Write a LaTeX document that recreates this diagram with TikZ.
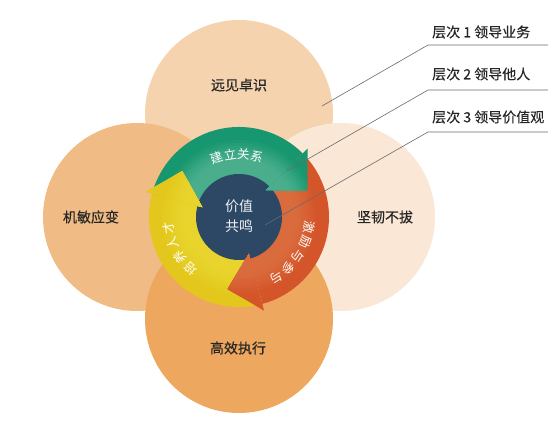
\documentclass[tikz,border=0pt]{standalone}
\usepackage{fontspec}
\setmainfont{Noto Sans CJK SC}
\newfontfamily\medcjk[BoldFont={Noto Sans CJK SC},BoldFeatures={FakeBold=0.35}]{Noto Sans CJK SC}
\definecolor{ctop}{HTML}{F5D3AE}
\definecolor{cleft}{HTML}{F0BB84}
\definecolor{cright}{HTML}{FBE7D5}
\definecolor{cbot}{HTML}{EEA75E}
\definecolor{gdark}{HTML}{17976F}
\definecolor{glight}{HTML}{4AAE8C}
\definecolor{odark}{HTML}{D4552A}
\definecolor{olight}{HTML}{DA6B3D}
\definecolor{ydark}{HTML}{E3C71C}
\definecolor{ylight}{HTML}{E8D42C}
\definecolor{navy}{HTML}{2C4865}
\definecolor{txt}{HTML}{262626}
\definecolor{leader}{HTML}{6A6A6A}
\newcommand\bandpath[2]{([shift={(239,203)}]#1:90) arc[start angle=#1,end angle=#2,radius=90] -- ([shift={(239,203)}]#2:43) arc[start angle=#2,end angle=#1,radius=43] -- cycle}
\newcommand\headpath[1]{([shift={(239,203)}]#1:97) -- ([shift={(239,203)}]#1-24:73) -- ([shift={(239,203)}]#1:38) -- cycle}
\newcommand\gradfill[3]{%
  \begin{scope}
    \clip #1;
    \foreach \r/\p in {100/100,80/100,77/88,74/72,71/56,68/40,65/25,62/12,59/4,56/0}
      {\fill[#2!\p!#3] (239,203) circle[radius=\r];}
  \end{scope}}
\tikzset{
  bigc/.style={circle,inner sep=0pt,minimum size=188pt},
  lbl/.style={text=txt,inner sep=0pt,font=\medcjk\bfseries\fontsize{14pt}{16pt}\selectfont},
  reflbl/.style={text=txt,inner sep=0pt,anchor=west,font=\medcjk\bfseries\fontsize{14pt}{16pt}\selectfont},
  arrtxt/.style={text=white,inner sep=0pt,font=\fontsize{12.5pt}{14pt}\selectfont},
  coretxt/.style={text=white!92!navy,inner sep=0pt,font=\fontsize{14pt}{16pt}\selectfont},
  leaderline/.style={draw=leader,line width=0.6pt}
}
\begin{document}
\begin{tikzpicture}[x=1pt,y=1pt]
\useasboundingbox (0,0) rectangle (548,420);
% four large circles
\node[bigc,fill=ctop] (ctopn) at (239,306) {};
\node[bigc,fill=cleft] (cleftn) at (137,203) {};
\node[bigc,fill=cright] (crightn) at (341,203) {};
\node[bigc,fill=cbot] (cbotn) at (239,101) {};
% arrow bands
\gradfill{\bandpath{165}{45}}{gdark}{glight}
\gradfill{\bandpath{45}{-75}}{odark}{olight}
\gradfill{\bandpath{-75}{-195}}{ydark}{ylight}
% core
\node[circle,fill=navy,inner sep=0pt,minimum size=86pt] (core) at (239,203) {};
% arrow heads
\gradfill{\headpath{45}}{gdark}{glight}
\gradfill{\headpath{-75}}{odark}{olight}
\gradfill{\headpath{165}}{ydark}{ylight}
% arrow texts
\foreach \a/\c [count=\i] in {110.5/建,98.2/立,85.9/关,73.6/系}
  \node[arrtxt,rotate=\a-90] (gt\i) at ([shift={(239,203)}]\a:63) {\c};
\foreach \a/\c [count=\i] in {-8.5/激,-20.9/励,-33.3/与,-45.7/参,-58.1/与}
  \node[arrtxt,rotate=\a-90] (ot\i) at ([shift={(239,203)}]\a:71) {\c};
\foreach \a/\c [count=\i] in {227.2/培,214.4/养,201.6/人,188.8/才}
  \node[arrtxt,rotate=\a-90] (yt\i) at ([shift={(239,203)}]\a:71) {\c};
% core text
\node[coretxt] (core1) at (239,214) {价值};
\node[coretxt] (core2) at (239,194) {共鸣};
% circle labels
\node[lbl] (l1) at (239,335) {远见卓识};
\node[lbl] (l2) at (91,203) {机敏应变};
\node[lbl] (l3) at (385,203) {坚韧不拔};
\node[lbl] (l4) at (238,72) {高效执行};
% level labels
\node[reflbl] (r1) at (432,388) {层次 1 领导业务};
\node[reflbl] (r2) at (432,346) {层次 2 领导他人};
\node[reflbl] (r3) at (432,303) {层次 3 领导价值观};
% leader lines
\coordinate (p1) at (322,314);
\coordinate (p2) at (287,249);
\coordinate (p3) at (265,195);
\coordinate (k1) at (428,375);
\coordinate (k2) at (428,330);
\coordinate (k3) at (428,288);
\coordinate (e1) at (548,375);
\coordinate (e2) at (548,330);
\coordinate (e3) at (548,288);
\draw[leaderline] (p1) -- (k1) -- (e1);
\draw[leaderline] (p2) -- (k2) -- (e2);
\draw[leaderline] (p3) -- (k3) -- (e3);
\end{tikzpicture}
\end{document}
